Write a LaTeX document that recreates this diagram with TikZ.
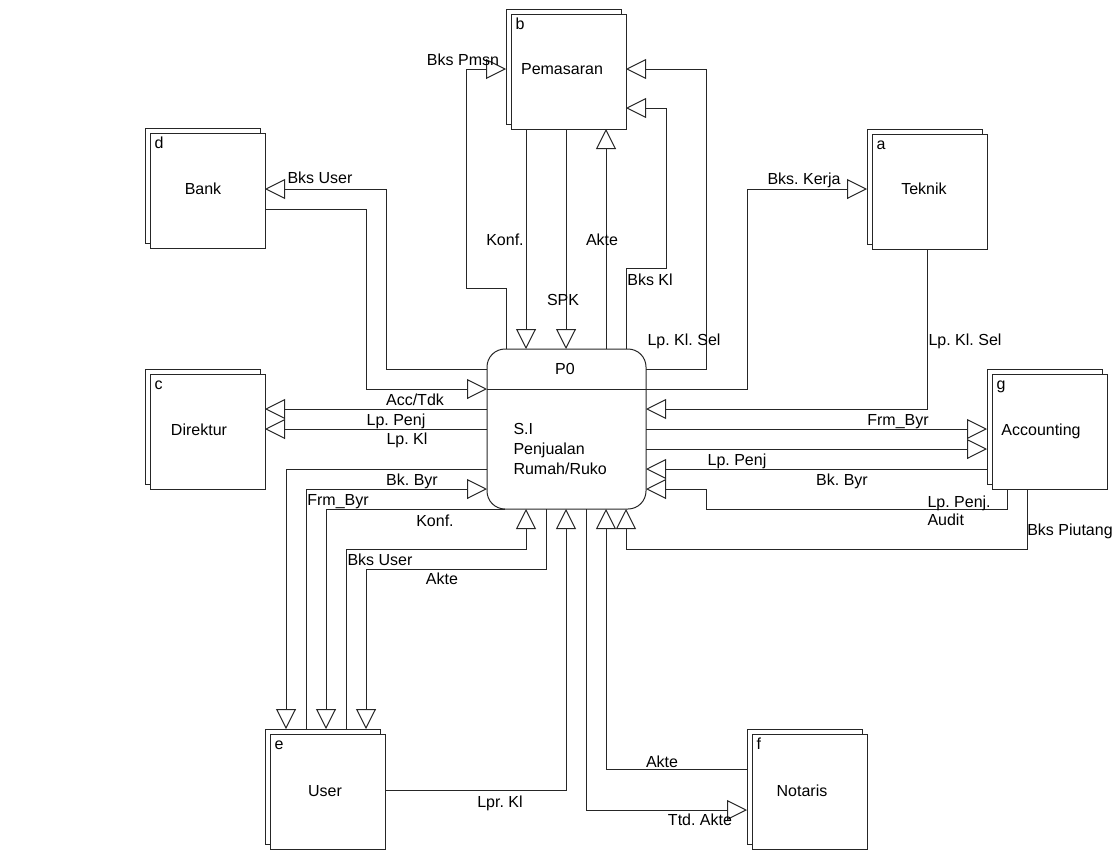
\documentclass[tikz,border=0pt]{standalone}
\usepackage{fontspec}
\setmainfont{Liberation Sans}
\usetikzlibrary{arrows.meta}
\frenchspacing
\newcommand\entbox[7]{%
  \node[entback] (#1b) at (#2-5,#3-5) {};
  \node[entfront] (#1) at (#2,#3) {};
  \node[letter] (#1l) at (#2+4,#3+10) {#4};
  \node[txt] (#1t) at (#6,#7) {#5};
}
\begin{document}
\begin{tikzpicture}[x=0.75pt,y=-0.75pt,
  font=\fontsize{12pt}{15pt}\selectfont,
  line width=0.75pt,
  entback/.style={draw=black!85, fill=white, minimum width=86.25pt, minimum height=86.25pt, anchor=north west, inner sep=0pt, outer sep=0pt},
  entfront/.style={entback},
  letter/.style={anchor=west, inner sep=0pt, text height=8.6pt, text depth=0pt},
  txt/.style={inner sep=0pt, text height=8.6pt, text depth=0pt},
  flow/.style={draw=black!85, -{Triangle[open,length=15pt,width=15pt]}},
]
\useasboundingbox (0,0) rectangle (1120,850);

% entities
\entbox{pem}{511}{14}{b}{Pemasaran}{562}{69}
\entbox{bank}{150}{133}{d}{Bank}{203}{189}
\entbox{dir}{150}{374}{c}{Direktur}{199}{430}
\entbox{tek}{872}{134}{a}{Teknik}{924}{189}
\entbox{acc}{992}{374}{g}{Accounting}{1041}{430}
\entbox{usr}{270}{734}{e}{User}{325}{791}
\entbox{nota}{752}{734}{f}{Notaris}{802}{791}

% process
\node[draw=black!85, rounded corners=13.5pt, minimum width=119.25pt, minimum height=120pt, anchor=north west, inner sep=0pt, outer sep=0pt] (p0) at (487,349) {};
\draw[draw=black!85] (p0.west |- 0,389) -- (p0.east |- 0,389);
\node[txt] (p0t) at (565,369) {P0};
\node[inner sep=0pt, anchor=north west, align=left] (p0d) at (513,423) {S.I\\Penjualan\\Rumah/Ruko};

% flows
\draw[flow] (506,0 |- p0.north) -- (506,288) -- (466,288) -- (466,69) -- (pemb.west |- 0,69);
\draw[flow] (526,0 |- pem.south) -- (526,0 |- p0.north);
\draw[flow] (566,0 |- pem.south) -- (566,0 |- p0.north);
\draw[flow] (606,0 |- p0.north) -- (606,0 |- pem.south);
\draw[flow] (626,0 |- p0.north) -- (626,268) -- (666,268) -- (666,108) -- (pem.east |- 0,108);
\draw[flow] (p0.east |- 0,369) -- (706,369) -- (706,69) -- (pem.east |- 0,69);
\draw[flow] (p0.east |- 0,389) -- (747,389) -- (747,189) -- (tekb.west |- 0,189);
\draw[flow] (927,0 |- tek.south) -- (927,409) -- (p0.east |- 0,409);
\draw[flow] (p0.east |- 0,429) -- (accb.west |- 0,429);
\draw[flow] (p0.east |- 0,449) -- (accb.west |- 0,449);
\draw[flow] (accb.west |- 0,469) -- (p0.east |- 0,469);
\draw[flow] (1007,0 |- acc.south) -- (1007,509) -- (706,509) -- (706,489) -- (p0.east |- 0,489);
\draw[flow] (1027,0 |- acc.south) -- (1027,549) -- (626,549) -- (626,0 |- p0.south);
\draw[flow] (p0.west |- 0,369) -- (386,369) -- (386,189) -- (bank.east |- 0,189);
\draw[flow] (bank.east |- 0,209) -- (366,209) -- (366,389) -- (p0.west |- 0,389);
\draw[flow] (p0.west |- 0,409) -- (dir.east |- 0,409);
\draw[flow] (p0.west |- 0,429) -- (dir.east |- 0,429);
\draw[flow] (p0.west |- 0,469) -- (286,469) -- (286,0 |- usrb.north);
\draw[flow] (306,0 |- usrb.north) -- (306,489) -- (p0.west |- 0,489);
\draw[flow] (505,0 |- p0.south) -- (326,509) -- (326,0 |- usrb.north);
\draw[flow] (346,0 |- usrb.north) -- (346,549) -- (526,549) -- (526,0 |- p0.south);
\draw[flow] (546,0 |- p0.south) -- (546,569) -- (366,569) -- (366,0 |- usrb.north);
\draw[flow] (usr.east |- 0,790) -- (566,790) -- (566,0 |- p0.south);
\draw[flow] (notab.west |- 0,769) -- (606,769) -- (606,0 |- p0.south);
\draw[flow] (586,0 |- p0.south) -- (586,810) -- (notab.west |- 0,810);

% flow labels
\node[txt] (l1) at (463,60) {Bks Pmsn};
\node[txt] (l2) at (505,240) {Konf.};
\node[txt] (l3) at (602,240) {Akte};
\node[txt] (l4) at (563,300) {SPK};
\node[txt] (l5) at (650,280) {Bks Kl};
\node[txt] (l6) at (684,340) {Lp. Kl. Sel};
\node[txt] (l7) at (320,178) {Bks User};
\node[txt] (l8) at (415,400) {Acc/Tdk};
\node[txt] (l9) at (396,420) {Lp. Penj};
\node[txt] (l10) at (407,439) {Lp. Kl};
\node[txt] (l11) at (412,480) {Bk. Byr};
\node[txt] (l12) at (338,500) {Frm\_Byr};
\node[txt] (l13) at (435,521) {Konf.};
\node[txt] (l14) at (380,560) {Bks User};
\node[txt] (l15) at (442,579) {Akte};
\node[txt] (l16) at (500,802) {Lpr. Kl};
\node[txt] (l17) at (662,762) {Akte};
\node[txt] (l18) at (700,820) {Ttd. Akte};
\node[txt] (l19) at (804,179) {Bks. Kerja};
\node[txt] (l20) at (965,340) {Lp. Kl. Sel};
\node[txt] (l21) at (898,420) {Frm\_Byr};
\node[txt] (l22) at (737,460) {Lp. Penj};
\node[txt] (l23) at (842,480) {Bk. Byr};
\node[txt, anchor=west] (l24) at (927,502) {Lp. Penj.};
\node[txt, anchor=west] (l25) at (927,520) {Audit};
\node[txt] (l26) at (1070,530) {Bks Piutang};
\end{tikzpicture}
\end{document}
